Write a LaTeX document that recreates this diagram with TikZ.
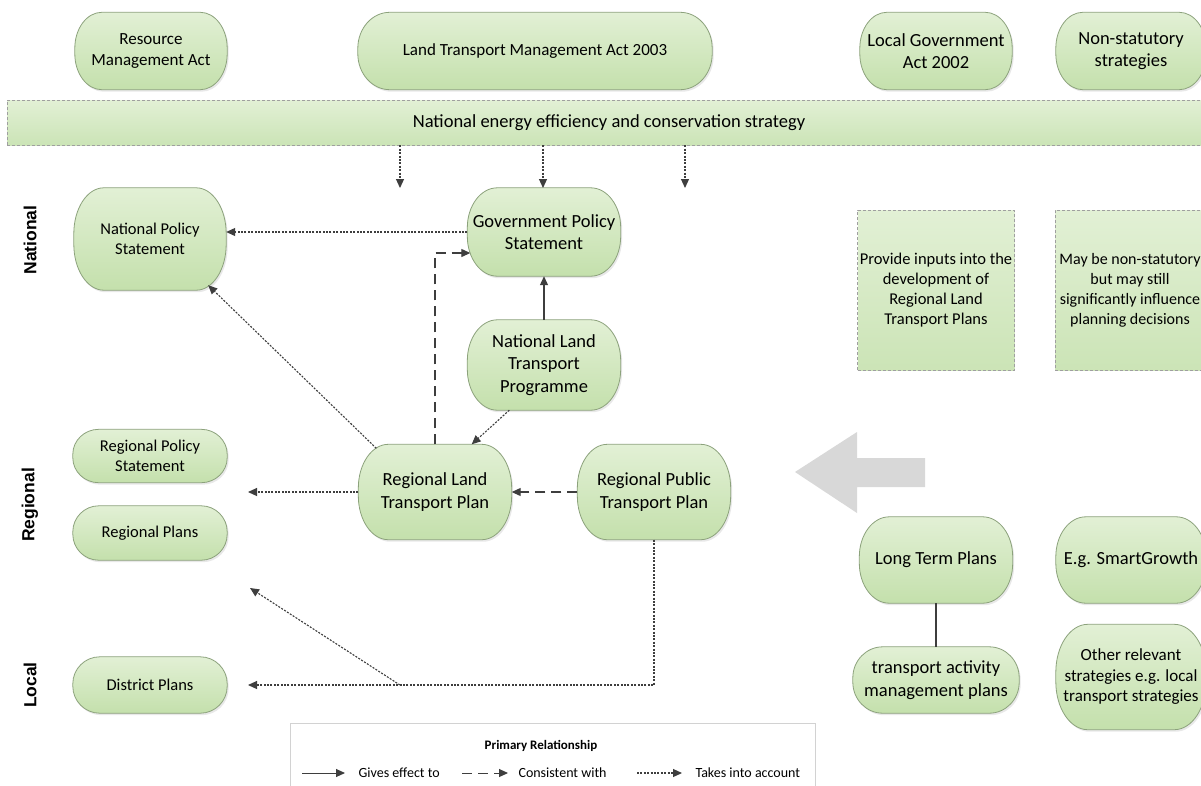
\documentclass[tikz,border=0pt]{standalone}
\usepackage{fontspec}
\setmainfont{Carlito}
\newfontfamily\sidefont{Liberation Sans}
\usetikzlibrary{arrows.meta,shadows,backgrounds}
\definecolor{plantop}{RGB}{226,240,213}
\definecolor{planbot}{RGB}{196,224,172}
\definecolor{planline}{RGB}{140,162,124}
\definecolor{linkcol}{RGB}{62,62,62}
\definecolor{bigarrow}{RGB}{216,216,216}
\tikzset{
  plan/.style={align=center, inner sep=2pt},
  planfill/.style={draw=planline, line width=0.8pt, top color=plantop, bottom color=planbot,
    drop shadow={opacity=0.18, shadow xshift=1.5pt, shadow yshift=-2pt}},
  note/.style={draw=gray!75, densely dashed, line width=0.6pt, top color=plantop,
    bottom color=planbot!75!plantop, align=center, inner sep=2pt},
  gives/.style={draw=linkcol, line width=1.2pt, -{Triangle[length=9pt,width=8pt]}},
  consistent/.style={gives, dash pattern=on 10pt off 6pt},
  account/.style={draw=linkcol, line width=1.1pt, dash pattern=on 2pt off 1.4pt,
    -{Triangle[length=9pt,width=8pt]}},
  f14/.style={font=\fontsize{14}{17}\selectfont},
  f16/.style={font=\fontsize{16.5}{20}\selectfont},
  f17/.style={font=\fontsize{17}{20.5}\selectfont},
  f18/.style={font=\fontsize{18.5}{22.5}\selectfont},
  level/.style={rotate=90, font=\sidefont\bfseries\fontsize{17.5}{20}\selectfont}
}
% box with elliptic corners round a named node: #1 node, #2 x radius, #3 y radius
\newcommand\planshape[3]{%
  \path[planfill] ([xshift=#2]#1.north west) -- ([xshift=-#2]#1.north east)
    arc[start angle=90, end angle=0, x radius=#2, y radius=#3]
    -- ([yshift=#3]#1.south east)
    arc[start angle=0, end angle=-90, x radius=#2, y radius=#3]
    -- ([xshift=#2]#1.south west)
    arc[start angle=270, end angle=180, x radius=#2, y radius=#3]
    -- ([yshift=-#3]#1.north west)
    arc[start angle=180, end angle=90, x radius=#2, y radius=#3] -- cycle;}
\begin{document}
\begin{tikzpicture}[x=1pt,y=-1pt]
  \useasboundingbox (0,0) rectangle (1201,785);

  \node[plan, minimum width=152pt, minimum height=77pt, f17] (rma) at (151,51) {Resource\\Management Act};
  \node[plan, minimum width=354pt, minimum height=77pt, f17] (ltma) at (535,51) {Land Transport Management Act 2003};
  \node[plan, minimum width=152pt, minimum height=77pt, f18] (lga) at (936,51) {Local Government\\Act 2002};
  \node[plan, minimum width=150pt, minimum height=77pt, f18] (nss) at (1131,51) {Non-statutory\\strategies};
  \node[note, minimum width=1204pt, minimum height=45pt, f18] (neecs) at (609,122.5) {National energy efficiency and conservation strategy};

  \node[level] (national) at (30,240) {National};
  \node[level] (regional) at (30,505) {Regional};
  \node[level] (local) at (30,685) {Local};

  \node[plan, minimum width=152pt, minimum height=102pt, f16] (nps) at (150,239) {National Policy\\Statement};
  \node[plan, minimum width=154pt, minimum height=53pt, f16] (rps) at (150,456) {Regional Policy\\Statement};
  \node[plan, minimum width=154pt, minimum height=54pt, f16] (rp) at (150,533) {Regional Plans};
  \node[plan, minimum width=154pt, minimum height=56pt, f16] (dp) at (150,685) {District Plans};

  \node[plan, minimum width=153pt, minimum height=88pt, f18] (gps) at (544,232) {Government Policy\\Statement};
  \node[plan, minimum width=153pt, minimum height=90pt, f18] (nltp) at (544,365) {National Land\\Transport\\Programme};
  \node[plan, minimum width=153pt, minimum height=95pt, f18] (rltp) at (435,492) {Regional Land\\Transport Plan};
  \node[plan, minimum width=153pt, minimum height=95pt, f18] (rptp) at (654,492) {Regional Public\\Transport Plan};

  \node[note, minimum width=153pt, minimum height=160pt, f16] (inputs) at (936,290) {Provide inputs into the\\development of\\Regional Land\\Transport Plans};
  \node[note, minimum width=150pt, minimum height=160pt, font=\fontsize{16}{20}\selectfont] (influence) at (1130,290) {May be non-statutory\\but may still\\significantly influence\\planning decisions};

  \node[plan, minimum width=153pt, minimum height=86pt, f18] (ltp) at (936,560) {Long Term Plans};
  \node[plan, minimum width=166pt, minimum height=66pt, f18] (tamp) at (936,680) {transport activity\\management plans};
  \node[plan, minimum width=150pt, minimum height=86pt, f18] (sg) at (1131,560) {E.g. SmartGrowth};
  \node[plan, minimum width=150pt, minimum height=105pt, f17] (ors) at (1131,677) {Other relevant\\strategies e.g. local\\transport strategies};

  \begin{scope}[on background layer]
    \fill[white] (0,0) rectangle (1201,785);
    \foreach \n/\rx/\ry in {rma/27/36, ltma/32/36, lga/27/36, nss/27/36, nps/30/46, rps/26/25,
        rp/26/26, dp/27/27, gps/30/40, nltp/30/41, rltp/30/44, rptp/30/44, ltp/30/40,
        tamp/30/31, sg/30/40, ors/32/48}
      \planshape{\n}{\rx pt}{\ry pt};
  \end{scope}

  \fill[bigarrow] (795,472) -- (857,432) -- (857,458) -- (925,458) -- (925,487) -- (857,487) -- (857,513) -- cycle;

  \foreach \x [count=\i] in {400,543,685} {
    \coordinate (drop\i) at (\x,188);
    \draw[account] (neecs.south -| drop\i) -- (drop\i);
  }
  \draw[account] (gps.west) -- (gps.west -| nps.east);
  \draw[gives] (nltp.north) -- (gps.south);
  \draw[consistent] (rltp.north) |- ([xshift=3pt,yshift=-21pt]gps.west);
  \draw[account] ([xshift=18pt,yshift=-4pt]rltp.north west) -- ([xshift=-18pt,yshift=5pt]nps.south east);
  \draw[account] ([xshift=42pt]nltp.south west) -- ([xshift=-40pt]rltp.north east);
  \draw[consistent] (rptp.west) -- (rltp.east);
  \coordinate (rpsend) at (248,492);
  \draw[account] (rltp.west) -- (rpsend);
  \coordinate (dpend) at (248,685);
  \draw[account] (rptp.south) |- (dpend);
  \coordinate (fork) at (400,685);
  \coordinate (rpend) at (250,588);
  \draw[account] (fork) -- (rpend);
  \draw[draw=linkcol, line width=1.2pt] (ltp.south) -- (tamp.north);

  \node[draw=gray!35, line width=0.8pt, minimum width=525pt, minimum height=80pt, anchor=north west] (legend) at (290,723) {};
  \node[font=\bfseries\fontsize{13}{15}\selectfont] (legtitle) at (541,746) {Primary Relationship};
  \coordinate (g1) at (302,773); \coordinate (g2) at (345,773);
  \coordinate (c1) at (462,773); \coordinate (c2) at (508,773);
  \coordinate (a1) at (637,773); \coordinate (a2) at (682,773);
  \draw[gives, line width=1pt] (g1) -- (g2);
  \draw[consistent, line width=1pt] (c1) -- (c2);
  \draw[account] (a1) -- (a2);
  \node[anchor=west, f14] (givestxt) at (355,773) {Gives effect to};
  \node[anchor=west, f14] (consttxt) at (515,773) {Consistent with};
  \node[anchor=west, f14] (accttxt) at (692,773) {Takes into account};
\end{tikzpicture}
\end{document}
